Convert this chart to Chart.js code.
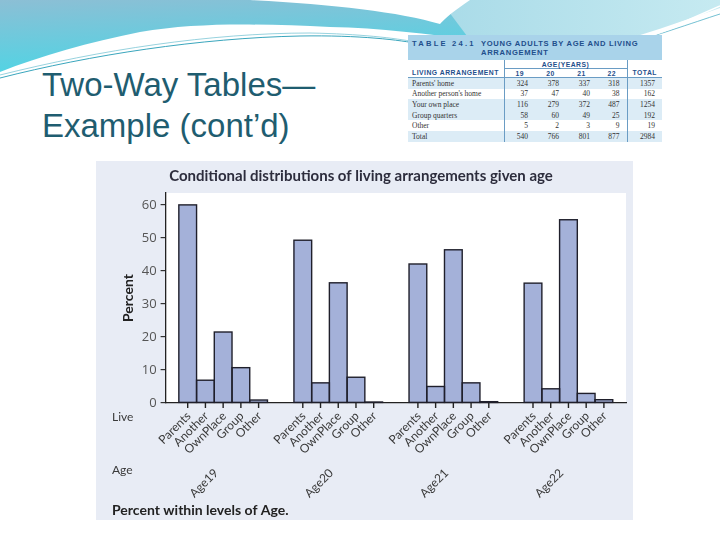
<!DOCTYPE html>
<html>
<head>
<meta charset="utf-8">
<title>Two-Way Tables — Example (cont'd)</title>
<script src="https://cdn.jsdelivr.net/npm/chart.js@4.4.1/dist/chart.umd.min.js"></script>
<style>
  html, body { margin: 0; padding: 0; background: #fff; }
  #slide { position: relative; width: 720px; height: 540px; overflow: hidden; background: #fff; font-family: "Liberation Sans", Arial, sans-serif; }
  #waves { position: absolute; left: 0; top: 0; }
  #slideTitle { position: absolute; left: 42px; top: 64px; margin: 0; font-weight: normal; font-size: 33px; line-height: 41px; color: #1f5d70; }

  #tableBox { position: absolute; left: 408px; top: 35px; width: 254px; background: #fff; }
  #tableBox .band { position: relative; height: 25px; background: #a9d3ea; color: #1f4f8c; font-weight: bold; font-size: 7.6px; letter-spacing: 0.7px; }
  #tableBox .band .num { position: absolute; left: 4px; top: 4px; letter-spacing: 2.2px; }
  #tableBox .band .name { position: absolute; left: 73px; top: 4px; line-height: 9px; }
  #countTable { width: 254px; border-collapse: collapse; table-layout: fixed; }
  #countTable td, #countTable th { padding: 0; font-size: 7.5px; white-space: nowrap; }
  #countTable th { color: #1f4f8c; font-size: 6.8px; font-weight: bold; letter-spacing: 0.5px; height: 8px; }
  #countTable td { font-family: "Liberation Serif", serif; color: #333; height: 10.6px; text-align: right; padding-right: 7px; }
  #countTable td.rowName { text-align: left; padding-left: 4px; padding-right: 0; }
  #countTable tr.shade td { background: #dcecf6; }
  #countTable .sepL { border-left: 1px solid #6a9cc4; }
  #countTable .sepB { border-bottom: 1px solid #6a9cc4; }

  #chartBox { position: absolute; left: 96px; top: 161px; width: 537px; height: 359px; }
</style>
</head>
<body>
<div id="slide">
  <svg id="waves" width="720" height="160">
    <defs>
      <linearGradient id="gBlue" x1="0" y1="0" x2="0.25" y2="1">
        <stop offset="0" stop-color="#8cbfd5"/>
        <stop offset="1" stop-color="#50d4e4"/>
      </linearGradient>
      <linearGradient id="gCyan" x1="0" y1="0" x2="1" y2="0">
        <stop offset="0" stop-color="#a9dbe8"/>
        <stop offset="1" stop-color="#c6eaf1"/>
      </linearGradient>
    </defs>
    <path d="M0,0 H470 L470,40 C430,34 380,28 330,27 C260,24 200,22 140,32 C90,42 40,56 0,72 Z" fill="url(#gBlue)"/>
    <path d="M440,0 H720 V8 C680,22 640,36 600,47 C560,42 520,38 470,40 Z" fill="url(#gCyan)"/>
    <path d="M250,0 H470 C455,10 445,18 440,24 C400,12 330,4 250,0 Z" fill="#ffffff"/>
    <path d="M0,78 C90,55 200,38 300,36 C360,35 400,40 420,44" fill="none" stroke="#3aa6bd" stroke-width="1"/>
    <path d="M0,75 C100,50 210,33 310,33 C360,34 395,38 415,42" fill="none" stroke="#7cc6d6" stroke-width="0.8"/>
    <path d="M590,52 C640,40 690,20 720,6" fill="none" stroke="#ffffff" stroke-width="1.4"/>
    <path d="M600,52 C650,38 695,22 720,14" fill="none" stroke="#4fb0c6" stroke-width="0.8"/>
    <path d="M610,50 C660,34 700,18 720,10" fill="none" stroke="#ffffff" stroke-width="1"/>
  </svg>

  <h1 id="slideTitle">Two-Way Tables—<br>Example (cont’d)</h1>

  <div id="tableBox">
    <div class="band"><span class="num">TABLE 24.1</span><span class="name">YOUNG ADULTS BY AGE AND LIVING<br>ARRANGEMENT</span></div>
    <table id="countTable">
      <colgroup>
        <col style="width:96px"><col style="width:31px"><col style="width:31px"><col style="width:31px"><col style="width:30px"><col style="width:35px">
      </colgroup>
      <thead>
        <tr><th></th><th class="sepL sepB" colspan="4">AGE(YEARS)</th><th class="sepL"></th></tr>
        <tr id="ageHeadRow" class="sepB"><th class="sepB" style="text-align:left;padding-left:4px">LIVING ARRANGEMENT</th></tr>
      </thead>
      <tbody id="countBody"></tbody>
    </table>
  </div>

  <div id="chartBox"><canvas id="livingChart" width="537" height="359"></canvas></div>
</div>

<script>
// Chart data: conditional percent of each living arrangement within an age group
const ageGroups = ['Age19', 'Age20', 'Age21', 'Age22'];
const livingLabels = ['Parents', 'Another', 'OwnPlace', 'Group', 'Other'];
const parentsPct = [60.0, 49.3, 42.1, 36.3];
const anotherPct = [6.9, 6.1, 5.0, 4.3];
const ownPlacePct = [21.5, 36.4, 46.4, 55.5];
const groupPct = [10.7, 7.8, 6.1, 2.9];
const otherPct = [0.9, 0.3, 0.4, 1.0];
const percentTicks = [0, 10, 20, 30, 40, 50, 60];

// Table 24.1 counts (19, 20, 21, 22, total)
const tableAges = ['19', '20', '21', '22'];
const tableRowNames = ["Parents' home", "Another person's home", 'Your own place', 'Group quarters', 'Other', 'Total'];
const parentsCount = [324, 378, 337, 318, 1357];
const anotherCount = [37, 47, 40, 38, 162];
const ownPlaceCount = [116, 279, 372, 487, 1254];
const groupCount = [58, 60, 49, 25, 192];
const otherCount = [5, 2, 3, 9, 19];
const totalCount = [540, 766, 801, 877, 2984];
const shadedRows = [true, false, true, true, false, true];

document.addEventListener('DOMContentLoaded', function() {
    buildCountTable();
    initLivingChart();
});

function buildCountTable() {
    const headRow = document.getElementById('ageHeadRow');
    tableAges.forEach((age, i) => {
        const th = document.createElement('th');
        th.className = 'sepB' + (i === 0 ? ' sepL' : '');
        th.textContent = age;
        headRow.appendChild(th);
    });
    const totalTh = document.createElement('th');
    totalTh.className = 'sepL sepB';
    totalTh.textContent = 'TOTAL';
    headRow.appendChild(totalTh);

    const body = document.getElementById('countBody');
    const rows = [parentsCount, anotherCount, ownPlaceCount, groupCount, otherCount, totalCount];
    rows.forEach((counts, r) => {
        const tr = document.createElement('tr');
        if (shadedRows[r]) tr.className = 'shade';
        const nameTd = document.createElement('td');
        nameTd.className = 'rowName';
        nameTd.textContent = tableRowNames[r];
        tr.appendChild(nameTd);
        counts.forEach((n, c) => {
            const td = document.createElement('td');
            if (c === 0 || c === 4) td.className = 'sepL';
            td.textContent = n;
            tr.appendChild(td);
        });
        body.appendChild(tr);
    });
}

// Panel background + white plot area
const panelPlugin = {
    id: 'panel',
    beforeDraw(chart) {
        const {ctx, chartArea: a, width, height} = chart;
        ctx.save();
        ctx.fillStyle = '#e8ecf5';
        ctx.fillRect(0, 0, width, height);
        ctx.fillStyle = '#ffffff';
        ctx.fillRect(a.left, a.top, a.right - a.left, a.bottom - a.top);
        ctx.restore();
    }
};

// Outline every bar on its edges so neighbours share one line and tiny bars still show
const barOutline = {
    id: 'barOutline',
    afterDatasetsDraw(chart) {
        const ctx = chart.ctx;
        ctx.save();
        ctx.strokeStyle = '#1f1f2b';
        ctx.lineWidth = 1.4;
        chart.data.datasets.forEach((ds, i) => {
            chart.getDatasetMeta(i).data.forEach(bar => {
                const {x, y, base, width} = bar.getProps(['x', 'y', 'base', 'width'], true);
                ctx.strokeRect(x - width / 2, y, width, base - y);
            });
        });
        ctx.restore();
    }
};

// Two-level x labels: living arrangement under each bar, age under each group
const twoLevelLabels = {
    id: 'twoLevelLabels',
    afterDraw(chart) {
        const {ctx, chartArea: a, scales: {x}} = chart;
        const base = a.bottom;
        ctx.save();
        ctx.strokeStyle = '#222';
        ctx.lineWidth = 1.4;
        ctx.fillStyle = '#3a3a3a';
        ctx.font = '12px Lato';
        ctx.textAlign = 'right';
        ctx.textBaseline = 'middle';
        chart.data.datasets.forEach((ds, i) => {
            chart.getDatasetMeta(i).data.forEach(bar => {
                ctx.beginPath();
                ctx.moveTo(bar.x, base);
                ctx.lineTo(bar.x, base + 5);
                ctx.stroke();
                ctx.save();
                ctx.translate(bar.x + 1, base + 11);
                ctx.rotate(-Math.PI / 4);
                ctx.fillText(ds.label, 0, 0);
                ctx.restore();
            });
        });
        ageGroups.forEach((age, i) => {
            const cx = x.getPixelForValue(i);
            ctx.save();
            ctx.translate(cx - 7, base + 68);
            ctx.rotate(-Math.PI / 4);
            ctx.fillText(age, 0, 0);
            ctx.restore();
        });
        ctx.textAlign = 'left';
        ctx.fillText('Live', 16, base + 14);
        ctx.fillText('Age', 16, base + 67);
        ctx.font = 'bold 14px Lato';
        ctx.fillStyle = '#222';
        ctx.fillText('Percent within levels of Age.', 16, chart.height - 10);
        ctx.restore();
    }
};

function initLivingChart() {
    const seriesList = [parentsPct, anotherPct, ownPlacePct, groupPct, otherPct];
    const ctx = document.getElementById('livingChart').getContext('2d');
    new Chart(ctx, {
        type: 'bar',
        data: {
            labels: ageGroups,
            datasets: livingLabels.map((label, i) => ({
                label: label,
                data: seriesList[i],
                backgroundColor: '#a4b1d9',
                borderWidth: 0,
                categoryPercentage: 0.77,
                barPercentage: 1.0
            }))
        },
        options: {
            responsive: false,
            animation: false,
            layout: {
                padding: { left: 0, right: 7, top: 0, bottom: 0 }
            },
            plugins: {
                legend: { display: false },
                tooltip: { enabled: false },
                title: {
                    display: true,
                    text: 'Conditional distributions of living arrangements given age',
                    color: '#2d2d3d',
                    font: { family: 'Lato', size: 15, weight: 'bold' },
                    padding: { top: 6, bottom: 8 }
                }
            },
            scales: {
                x: {
                    grid: { display: false },
                    border: { display: true, color: '#222', width: 1.3 },
                    ticks: { display: false },
                    afterFit: function(scale) {
                        scale.height = 117;
                    }
                },
                y: {
                    min: 0,
                    max: 63.6,
                    afterBuildTicks: function(scale) {
                        scale.ticks = percentTicks.map(v => ({ value: v }));
                    },
                    afterFit: function(scale) {
                        scale.width = 69.6;
                    },
                    grid: { drawOnChartArea: false, tickLength: 5, color: '#333', lineWidth: 1.2 },
                    border: { display: true, color: '#222', width: 1.3 },
                    ticks: {
                        color: '#555',
                        padding: 4,
                        font: { family: 'Open Sans', size: 13 }
                    },
                    title: {
                        display: true,
                        text: 'Percent',
                        color: '#222',
                        font: { family: 'Lato', size: 14, weight: 'bold' },
                        padding: { top: 23.6, bottom: 0 }
                    }
                }
            }
        },
        plugins: [panelPlugin, barOutline, twoLevelLabels]
    });
}
</script>
</body>
</html>
